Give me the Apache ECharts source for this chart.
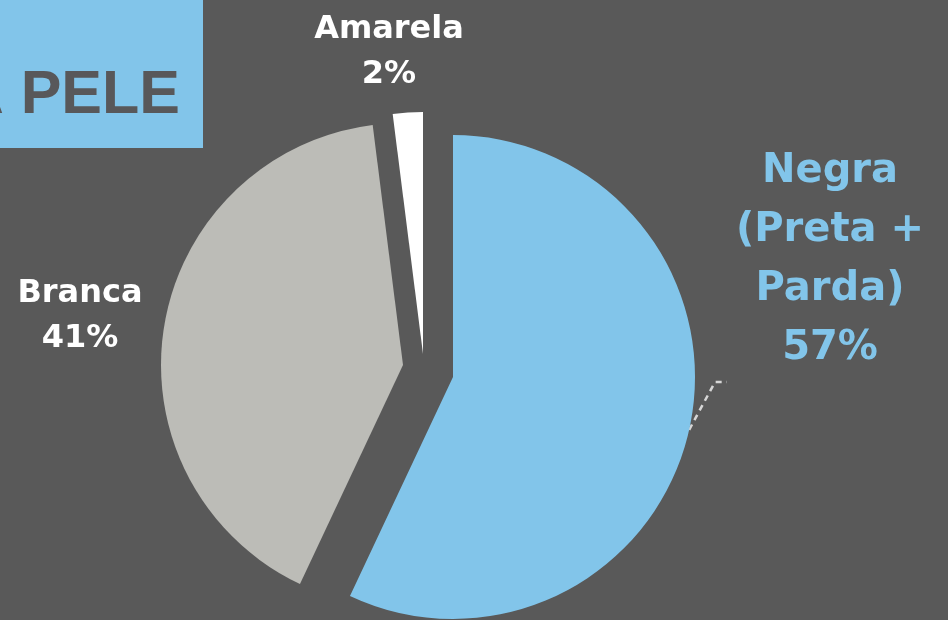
<!DOCTYPE html>
<html>
<head>
<meta charset="utf-8">
<script src="https://cdn.jsdelivr.net/npm/echarts@6/dist/echarts.min.js"></script>
<style>
html,body{margin:0;padding:0;background:#595959;}
#chart{width:948px;height:620px;}
</style>
</head>
<body>
<div id="chart"></div>
<script>
// ---- data ----
const categories = ['Negra\n(Preta +\nParda)', 'Branca', 'Amarela'];
const values = [57, 41, 2];
const titleText = 'A PELE';

// ---- styles / layout ----
const BG = '#595959';
const BLUE = '#82c5ea';
const sliceColors = [BLUE, '#bcbcb7', '#ffffff'];
const labelColors = [BLUE, '#ffffff', '#ffffff'];
const R = 242;
// each slice is drawn exploded: its own pie centre
const centers = [[453, 377], [403, 365], [423, 354]];
const fontFamily = 'DejaVu Sans';

const labelCfg = [
  { fontSize: 40, lineHeight: 59, width: 186, padding: [0, 0, 243, 10],
    layout: { x: 825, y: 142.5, align: 'center', verticalAlign: 'top' } },
  { fontSize: 32, lineHeight: 45, width: 160, padding: 0,
    layout: { x: 80, y: 316, align: 'center', verticalAlign: 'middle' } },
  { fontSize: 32, lineHeight: 45, width: 170, padding: 0,
    layout: { x: 389, y: 52, align: 'center', verticalAlign: 'middle' } }
];

function makeSeries(k) {
  const cfg = labelCfg[k];
  return {
    type: 'pie',
    radius: R,
    center: centers[k],
    startAngle: 90,
    clockwise: true,
    silent: true,
    animation: false,
    avoidLabelOverlap: false,
    emphasis: { disabled: true },
    itemStyle: { borderWidth: 0 },
    label: {
      show: true,
      position: 'outside',
      formatter: function (p) { return p.name + '\n' + p.value + '%'; },
      color: labelColors[k],
      fontFamily: fontFamily,
      fontWeight: 'bold',
      fontSize: cfg.fontSize,
      lineHeight: cfg.lineHeight,
      width: cfg.width,
      overflow: 'none',
      align: 'center',
      padding: cfg.padding,
      backgroundColor: 'rgba(0,0,0,0)'
    },
    labelLine: {
      show: k === 0,
      length: 10,
      length2: 12,
      lineStyle: { color: '#d6d6d6', width: 2.5, type: [6, 5] }
    },
    labelLayout: cfg.layout,
    data: categories.map(function (c, i) {
      return {
        name: c,
        value: values[i],
        itemStyle: { color: i === k ? sliceColors[k] : 'rgba(0,0,0,0)' },
        label: { show: i === k },
        labelLine: { show: i === k && k === 0 }
      };
    })
  };
}

const chart = echarts.init(document.getElementById('chart'), null, { renderer: 'canvas' });
chart.setOption({
  backgroundColor: BG,
  animation: false,
  graphic: [
    { type: 'rect', left: 0, top: 0, shape: { x: 0, y: 0, width: 203, height: 148 },
      style: { fill: BLUE }, z: 1 },
    { type: 'text', z: 2,
      style: { text: titleText, x: 180, y: 96, align: 'right', verticalAlign: 'middle',
        fill: '#58585a', font: 'bold 61px "Liberation Sans", Arial, sans-serif' } }
  ],
  series: [makeSeries(0), makeSeries(1), makeSeries(2)]
});
</script>
</body>
</html>
